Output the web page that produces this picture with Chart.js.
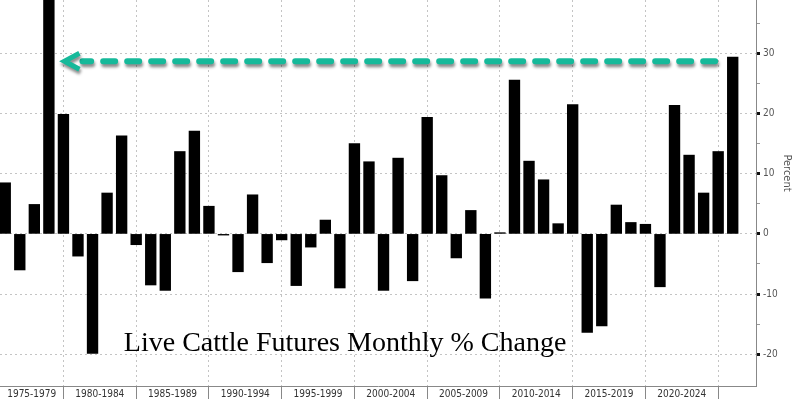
<!DOCTYPE html>
<html>
<head>
<meta charset="utf-8">
<script src="https://cdn.jsdelivr.net/npm/chart.js@4"></script>
<style>
  html, body { margin: 0; padding: 0; background: #fff; }
  canvas { display: block; }
</style>
</head>
<body>
<canvas id="grafico" width="800" height="399"></canvas>
<script>
// dados (variação % anual)
const anos = [1975, 1976, 1977, 1978, 1979, 1980, 1981, 1982, 1983, 1984,
  1985, 1986, 1987, 1988, 1989, 1990, 1991, 1992, 1993, 1994,
  1995, 1996, 1997, 1998, 1999, 2000, 2001, 2002, 2003, 2004,
  2005, 2006, 2007, 2008, 2009, 2010, 2011, 2012, 2013, 2014,
  2015, 2016, 2017, 2018, 2019, 2020, 2021, 2022, 2023, 2024, 2025]
const variacao = [8.5, -6.0, 4.9, 42, 19.9, -3.7, -19.9, 6.8, 16.3, -1.8,
  -8.5, -9.4, 13.7, 17.1, 4.6, -0.2, -6.3, 6.5, -4.8, -1.0,
  -8.6, -2.2, 2.3, -9.0, 15.0, 12.0, -9.4, 12.6, -7.8, 19.4,
  9.7, -4.0, 3.9, -10.7, 0.2, 25.6, 12.1, 9.0, 1.7, 21.5,
  -16.4, -15.3, 4.8, 1.9, 1.6, -8.8, 21.4, 13.1, 6.8, 13.7, 29.4]
// grupos do eixo x
const grupos = ['1975-1979', '1980-1984', '1985-1989', '1990-1994', '1995-1999',
  '2000-2004', '2005-2009', '2010-2014', '2015-2019', '2020-2024']
const inicioGrupos = [1975, 1980, 1985, 1990, 1995, 2000, 2005, 2010, 2015, 2020]
const ticksY = [-20, -10, 0, 10, 20, 30]
const ticksMenoresY = [-15, -5, 5, 15, 25, 35]
// seta e texto
const setaDe = 2024, setaAte = 1979, setaValor = 28.7
const titulo = 'Live Cattle Futures Monthly % Change'
const tituloX = 1983.15, tituloY = -19.4

const xMin = 1974.64, xMax = 2026.6
const yMin = -25.3, yMax = 38.9

const fonteEixo = "'DejaVu Sans Condensed', 'DejaVu Sans', sans-serif"
const corGrade = '#c4c4c4'

// posição dos rótulos: no meio entre as linhas de grade
const rotulos = new Map()
inicioGrupos.forEach((ini, i) => {
  let meio = ini + 1.5
  if (i === 0) meio = (xMin + ini + 4) / 2
  rotulos.set(meio, grupos[i])
})
const linhasX = inicioGrupos.map(ini => ini + 4)

const desenhos = {
  id: 'desenhos',
  afterDatasetsDraw(chart) {
    const ctx = chart.ctx
    const x = chart.scales.x, y = chart.scales.y
    // seta tracejada
    const yy = y.getPixelForValue(setaValor)
    const xd = x.getPixelForValue(setaDe)
    const xa = x.getPixelForValue(setaAte)
    ctx.save()
    ctx.strokeStyle = '#16b99a'
    ctx.shadowColor = 'rgba(0,0,0,0.45)'
    ctx.shadowOffsetY = 3
    ctx.shadowOffsetX = 1
    ctx.shadowBlur = 3
    ctx.lineWidth = 6
    ctx.lineCap = 'round'
    ctx.setLineDash([12, 12])
    ctx.beginPath()
    ctx.moveTo(xd - 3, yy)
    ctx.lineTo(xa + 19, yy)
    ctx.stroke()
    ctx.setLineDash([])
    ctx.lineWidth = 5
    ctx.lineCap = 'butt'
    ctx.lineJoin = 'miter'
    ctx.beginPath()
    ctx.moveTo(xa + 16, yy - 8)
    ctx.lineTo(xa + 1, yy)
    ctx.lineTo(xa + 16, yy + 8)
    ctx.stroke()
    ctx.restore()

    // texto
    ctx.save()
    ctx.fillStyle = '#000'
    ctx.font = "28px 'Liberation Serif', 'Times New Roman', serif"
    ctx.textBaseline = 'alphabetic'
    ctx.fillText(titulo, x.getPixelForValue(tituloX), y.getPixelForValue(tituloY))
    ctx.restore()

    // título do eixo y
    ctx.save()
    ctx.translate(787, 173)
    ctx.rotate(Math.PI / 2)
    ctx.fillStyle = '#555'
    ctx.font = '11px ' + fonteEixo
    ctx.textAlign = 'center'
    ctx.textBaseline = 'middle'
    ctx.fillText('Percent', 0, 0)
    ctx.restore()
  }
}

new Chart(document.getElementById('grafico'), {
  type: 'bar',
  data: {
    datasets: [{
      label: 'Variação %',
      data: anos.map((a, i) => ({ x: a, y: variacao[i] })),
      backgroundColor: '#000',
      borderWidth: 0,
      barThickness: 10.7
    }]
  },
  options: {
    responsive: false,
    animation: false,
    devicePixelRatio: 1,
    layout: { padding: 0 },
    plugins: {
      legend: { display: false },
      tooltip: { enabled: false }
    },
    scales: {
      x: {
        type: 'linear',
        min: xMin,
        max: xMax,
        offset: false,
        afterBuildTicks(scale) {
          const valores = [...linhasX, ...rotulos.keys()].sort((a, b) => a - b)
          scale.ticks = valores.map(v => ({ value: v }))
        },
        afterFit(scale) {
          scale.height = 13
          scale.paddingLeft = 0
          scale.paddingRight = 0
        },
        ticks: {
          autoSkip: false,
          maxRotation: 0,
          minRotation: 0,
          padding: -11,
          color: '#333',
          font: { family: fonteEixo, size: 10 },
          callback: (v) => rotulos.get(v) || ''
        },
        grid: {
          offset: false,
          color: (c) => linhasX.includes(c.tick && c.tick.value) ? corGrade : 'rgba(0,0,0,0)',
          tickColor: (c) => linhasX.includes(c.tick && c.tick.value) ? '#888' : 'rgba(0,0,0,0)',
          tickLength: 13,
          lineWidth: 1
        },
        border: { display: true, color: '#888', width: 1, dash: [2, 3] }
      },
      y: {
        position: 'right',
        min: yMin,
        max: yMax,
        afterBuildTicks(scale) {
          const valores = [...ticksY, ...ticksMenoresY].sort((a, b) => a - b)
          scale.ticks = valores.map(v => ({ value: v }))
        },
        afterFit(scale) {
          scale.width = 44
          scale.paddingTop = 0
          scale.paddingBottom = 0
        },
        ticks: {
          padding: 3,
          color: '#555',
          font: { family: fonteEixo, size: 10 },
          callback: (v) => ticksY.includes(v) ? String(v) : ''
        },
        grid: {
          color: (c) => ticksY.includes(c.tick && c.tick.value) ? corGrade : 'rgba(0,0,0,0)',
          tickColor: (c) => ticksY.includes(c.tick && c.tick.value) ? '#111' : '#999',
          tickWidth: (c) => ticksY.includes(c.tick && c.tick.value) ? 3 : 1,
          tickLength: 4,
          lineWidth: 1
        },
        border: { display: true, color: '#888', width: 1, dash: [2, 3] }
      }
    }
  },
  plugins: [desenhos]
})
</script>
</body>
</html>
